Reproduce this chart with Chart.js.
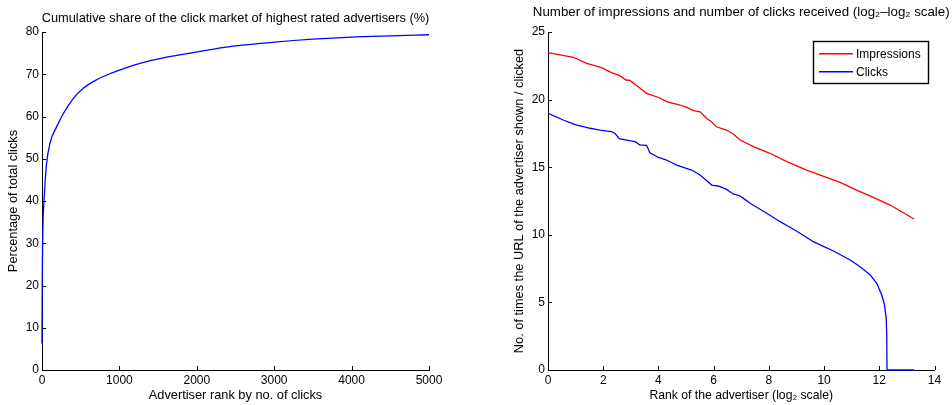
<!DOCTYPE html>
<html lang="en">
<head>
    <meta charset="UTF-8">
    <title>Advertiser clicks and impressions</title>
    <script src="https://cdn.jsdelivr.net/npm/chart.js@4.4.0/dist/chart.umd.min.js"></script>
    <style>
        body { margin: 0; background: #fff; }
        .box { position: absolute; top: 0; width: 476px; height: 405px; }
    </style>
</head>
<body>
    <div class="box" style="left:0"><canvas id="share" width="476" height="405"></canvas></div>
    <div class="box" style="left:476px"><canvas id="loglog" width="476" height="405"></canvas></div>

    <script>
        // left plot: cumulative share of clicks vs advertiser rank
        const rankX = [0, 2, 5, 8, 15, 26, 40, 60, 103, 190, 276, 405, 534, 706, 860, 1000, 1266, 1567, 1873, 2200, 2500, 3000, 3500, 4000, 4500, 5000];
        const shareY = [6.3, 17, 25, 30, 36, 40, 44.5, 49, 53.7, 57.6, 60.7, 64.3, 66.7, 68.7, 70, 71, 72.6, 73.9, 74.9, 75.9, 76.7, 77.6, 78.3, 78.8, 79.1, 79.35];
        const shareTicksX = [0, 1000, 2000, 3000, 4000, 5000];
        const shareTicksY = [0, 10, 20, 30, 40, 50, 60, 70, 80];

        // right plot: log2 rank vs log2 impressions / clicks
        const seriesNames = ['Impressions', 'Clicks'];
        const seriesColors = ['#ff0000', '#0000ff'];
        const impX = [0, 0.92, 1.4, 1.94, 2.3, 2.6, 2.82, 2.97, 3.27, 3.57, 3.81, 4.05, 4.29, 4.78, 5.02, 5.27, 5.51, 5.74, 5.92, 6.1, 6.47, 6.71, 6.96, 7.44, 8.04, 8.65, 9.37, 9.86, 10.58, 11.18, 11.79, 12.39, 13.26];
        const impY = [23.47, 23.13, 22.68, 22.36, 21.99, 21.77, 21.45, 21.42, 20.95, 20.46, 20.29, 20.12, 19.85, 19.6, 19.43, 19.18, 19.1, 18.62, 18.37, 17.99, 17.75, 17.46, 17.01, 16.52, 16.03, 15.41, 14.79, 14.42, 13.88, 13.31, 12.77, 12.2, 11.17];
        const clkX = [0, 0.55, 1.04, 1.52, 1.88, 2.3, 2.43, 2.58, 2.85, 3.15, 3.33, 3.57, 3.69, 3.99, 4.29, 4.66, 5.2, 5.51, 5.93, 6.16, 6.47, 6.71, 6.96, 7.32, 7.92, 8.41, 8.89, 9.13, 9.61, 10.34, 10.94, 11.3, 11.67, 11.91, 12.09, 12.19, 12.25, 12.27, 12.28, 13.26];
        const clkY = [18.99, 18.49, 18.12, 17.88, 17.75, 17.63, 17.5, 17.11, 17.01, 16.89, 16.64, 16.62, 16.07, 15.73, 15.53, 15.16, 14.79, 14.42, 13.68, 13.61, 13.36, 13.02, 12.87, 12.33, 11.59, 10.97, 10.41, 10.11, 9.49, 8.8, 8.14, 7.64, 7.03, 6.41, 5.55, 4.81, 3.82, 2.59, 0, 0];
        const loglogTicksX = [0, 2, 4, 6, 8, 10, 12, 14];
        const loglogTicksY = [0, 5, 10, 15, 20, 25];

        const FAMILY = '"Liberation Sans", Arial, sans-serif';
        const TICK_FONT = { family: FAMILY, size: 12 };
        const TITLE_FONT = { family: FAMILY, size: 12.8, weight: 'normal' };

        function pts(xs, ys) {
            return xs.map((x, i) => ({ x: x, y: ys[i] }));
        }

        // title centred over the plot, allowed to run wider than it
        const plotTitle = {
            id: 'plotTitle',
            afterDraw(chart, args, opts) {
                const ctx = chart.ctx;
                const a = chart.chartArea;
                ctx.save();
                ctx.font = opts.size + 'px ' + FAMILY;
                ctx.fillStyle = '#000';
                ctx.textAlign = 'center';
                ctx.textBaseline = 'middle';
                ctx.fillText(opts.text, (a.left + a.right) / 2, opts.y);
                ctx.restore();
            }
        };

        // matlab style ticks pointing into the plot
        const innerTicks = {
            id: 'innerTicks',
            afterDraw(chart) {
                const ctx = chart.ctx;
                const a = chart.chartArea;
                ctx.save();
                ctx.strokeStyle = '#000';
                ctx.lineWidth = 1;
                ctx.beginPath();
                chart.scales.x.ticks.forEach(t => {
                    const px = Math.round(chart.scales.x.getPixelForValue(t.value)) + 0.5;
                    ctx.moveTo(px, a.bottom);
                    ctx.lineTo(px, a.bottom - 4);
                });
                chart.scales.y.ticks.forEach(t => {
                    const py = Math.round(chart.scales.y.getPixelForValue(t.value)) + 0.5;
                    ctx.moveTo(a.left, py);
                    ctx.lineTo(a.left + 4, py);
                });
                ctx.stroke();
                ctx.restore();
            }
        };

        // boxed legend in the top right corner
        const boxLegend = {
            id: 'boxLegend',
            afterDraw(chart) {
                const ctx = chart.ctx;
                const a = chart.chartArea;
                const x0 = Math.round(a.right - 122), y0 = Math.round(a.top + 9), w = 115, h = 42;
                ctx.save();
                ctx.fillStyle = '#fff';
                ctx.fillRect(x0, y0, w, h);
                ctx.strokeStyle = '#000';
                ctx.lineWidth = 1.4;
                ctx.strokeRect(x0 + 0.5, y0 + 0.5, w, h);
                ctx.font = TICK_FONT.size + 'px ' + FAMILY;
                ctx.textBaseline = 'middle';
                seriesNames.forEach((name, i) => {
                    const ly = y0 + 12.8 + i * 18;
                    ctx.beginPath();
                    ctx.strokeStyle = seriesColors[i];
                    ctx.lineWidth = 1.4;
                    ctx.moveTo(x0 + 6, ly);
                    ctx.lineTo(x0 + 40, ly);
                    ctx.stroke();
                    ctx.fillStyle = '#000';
                    ctx.fillText(name, x0 + 43, ly + 0.5);
                });
                ctx.restore();
            }
        };

        function axis(min, max, ticks, size, horiz, titleText, titlePad, titleFont) {
            return {
                type: 'linear',
                min: min,
                max: max,
                afterFit: s => { if (horiz) s.height = size; else s.width = size; },
                afterBuildTicks: s => { s.ticks = ticks.map(v => ({ value: v })); },
                grid: { display: false, drawTicks: false },
                border: { display: true, color: '#000', width: 1 },
                ticks: { color: '#000', font: TICK_FONT, padding: 3, maxRotation: 0, autoSkip: false, callback: v => String(v) },
                title: { display: true, text: titleText, color: '#000', font: titleFont || TITLE_FONT, padding: titlePad }
            };
        }

        Chart.defaults.animation = false;

        new Chart(document.getElementById('share'), {
            type: 'line',
            data: {
                datasets: [{
                    label: 'share',
                    data: pts(rankX, shareY),
                    borderColor: '#0000ff',
                    borderWidth: 1.3,
                    pointRadius: 0,
                    cubicInterpolationMode: 'monotone',
                    clip: false
                }]
            },
            options: {
                responsive: false,
                layout: { padding: { left: 0, top: 32, right: 47, bottom: 0 } },
                plugins: {
                    legend: { display: false },
                    tooltip: { enabled: false },
                    plotTitle: { text: 'Cumulative share of the click market of highest rated advertisers (%)', size: 12.8, y: 18 }
                },
                scales: {
                    x: axis(0, 5000, shareTicksX, 35, true, 'Advertiser rank by no. of clicks', { top: 0, bottom: 1.6 }),
                    y: axis(0, 80, shareTicksY, 42, false, 'Percentage of total clicks', { top: 5.6, bottom: 0 })
                }
            },
            plugins: [innerTicks, plotTitle]
        });

        new Chart(document.getElementById('loglog'), {
            type: 'line',
            data: {
                datasets: [{
                    label: seriesNames[0],
                    data: pts(impX, impY),
                    borderColor: seriesColors[0],
                    borderWidth: 1.3,
                    pointRadius: 0,
                    clip: false
                }, {
                    label: seriesNames[1],
                    data: pts(clkX, clkY),
                    borderColor: seriesColors[1],
                    borderWidth: 1.3,
                    pointRadius: 0,
                    // tiny tension keeps chart.js off its per-pixel fast path,
                    // which was eating the steep drop near rank 12
                    tension: 0.0001,
                    clip: false
                }]
            },
            options: {
                responsive: false,
                layout: { padding: { left: 0, top: 32, right: 17.5, bottom: 0 } },
                plugins: {
                    legend: { display: false },
                    tooltip: { enabled: false },
                    plotTitle: { text: 'Number of impressions and number of clicks received (log\u2082\u2013log\u2082 scale)', size: 13.3, y: 12.5 }
                },
                scales: {
                    x: axis(0, 14, loglogTicksX, 35, true, 'Rank of the advertiser (log\u2082 scale)', { top: 0, bottom: 2 },
                        { family: FAMILY, size: 12.2, weight: 'normal' }),
                    y: axis(0, 25, loglogTicksY, 72, false, 'No. of times the URL of the advertiser shown / clicked', { top: 35.6, bottom: 0 })
                }
            },
            plugins: [innerTicks, boxLegend, plotTitle]
        });
    </script>
</body>
</html>
